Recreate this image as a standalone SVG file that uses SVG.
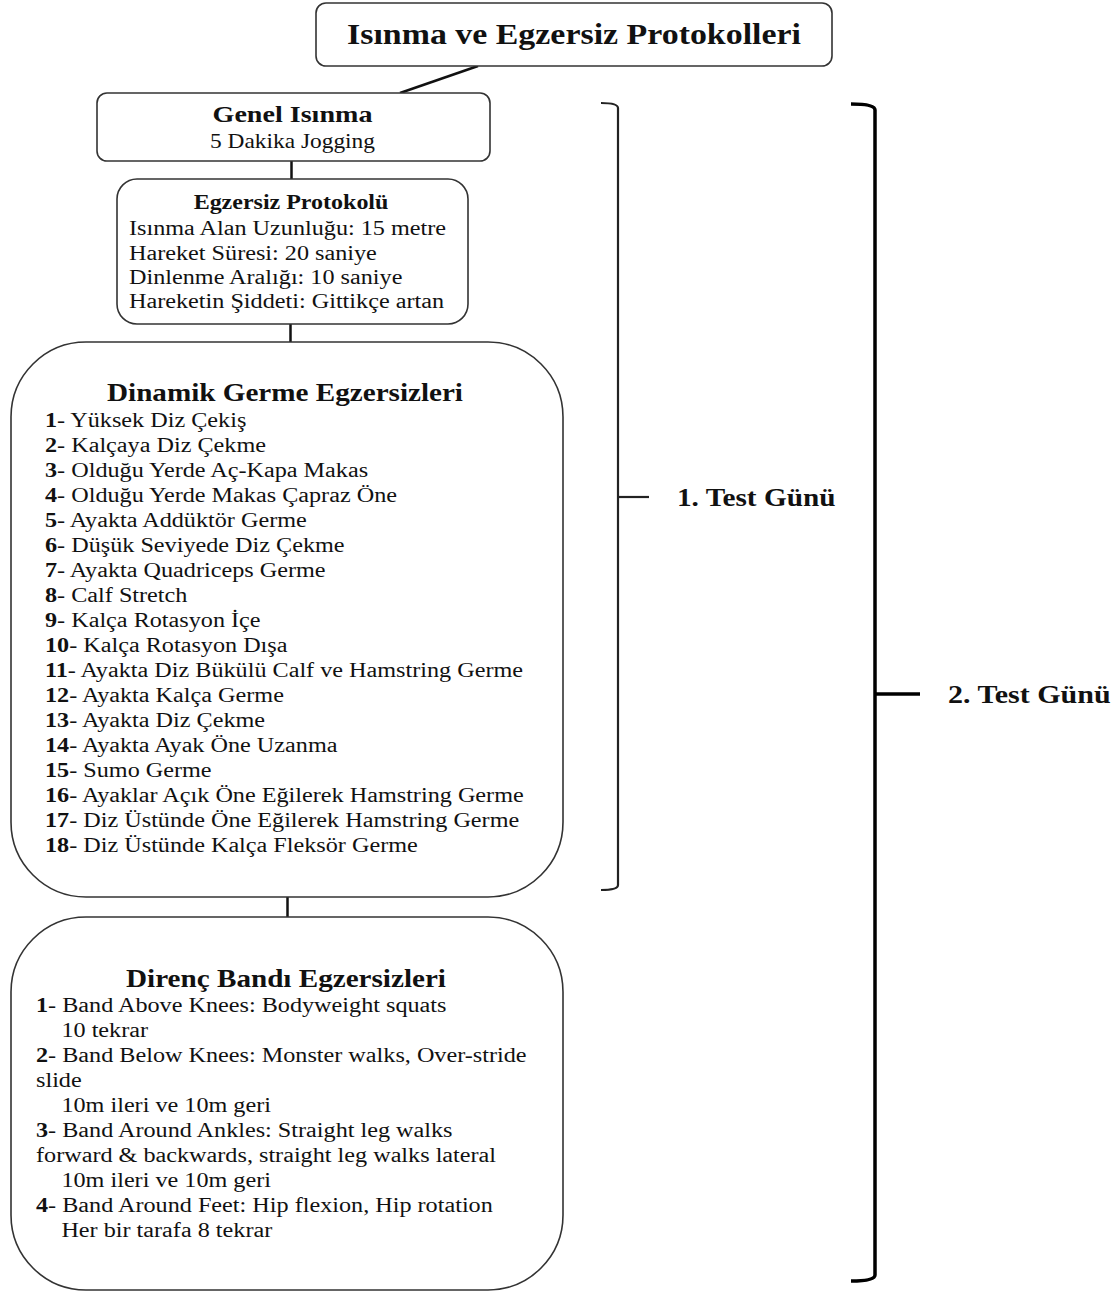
<svg xmlns="http://www.w3.org/2000/svg" width="1119" height="1293" viewBox="0 0 1119 1293">
<style>
text{font-family:"Liberation Serif","Times New Roman",serif;fill:#111;}
.box{fill:#fff;stroke:#333;stroke-width:1.6;}
.b{font-weight:bold;}
.t20{font-size:20px;}
.c{text-anchor:middle;}
.conn{stroke:#111;stroke-width:2.5;fill:none;}
.br1{stroke:#222;stroke-width:2.2;fill:none;}
.br2{stroke:#000;stroke-width:3.5;fill:none;}
</style>
<rect width="1119" height="1293" fill="#fff"/>
<g id="connectors">
<line class="conn" x1="478" y1="66" x2="400" y2="93"/>
<line class="conn" x1="291.5" y1="161" x2="291.5" y2="179"/>
<line class="conn" x1="290.5" y1="324" x2="290.5" y2="342"/>
<line class="conn" x1="287.5" y1="897" x2="287.5" y2="917"/>
</g>
<g id="title">
<rect class="box" x="316" y="3" width="516" height="63" rx="10"/>
<g transform="translate(574,0) scale(1.13,1)"><text class="b c" x="0" y="44" font-size="30">Isınma ve Egzersiz Protokolleri</text></g>
</g>
<g id="genel">
<rect class="box" x="97" y="93" width="393" height="68" rx="10"/>
<g transform="translate(292.5,0) scale(1.17,1)"><text class="b c" x="0" y="122" font-size="24">Genel Isınma</text>
<text class="c t20" x="0" y="148">5 Dakika Jogging</text></g>
</g>
<g id="protokol">
<rect class="box" x="117" y="179" width="351" height="145" rx="20"/>
<g transform="translate(291,0) scale(1.2,1)"><text class="b c t20" x="0" y="209">Egzersiz Protokolü</text></g>
<g transform="translate(129,0) scale(1.21,1)" class="t20">
<text x="0" y="235">Isınma Alan Uzunluğu: 15 metre</text>
<text x="0" y="260">Hareket Süresi: 20 saniye</text>
<text x="0" y="284">Dinlenme Aralığı: 10 saniye</text>
<text x="0" y="308">Hareketin Şiddeti: Gittikçe artan</text>
</g>
</g>
<g id="dinamik">
<rect class="box" x="11" y="342" width="552" height="555" rx="75"/>
<g transform="translate(285,0) scale(1.19,1)"><text class="b c" x="0" y="401" font-size="24.5">Dinamik Germe Egzersizleri</text></g>
<g transform="translate(45,0) scale(1.21,1)" class="t20">
<text x="0" y="427"><tspan class="b">1</tspan>- Yüksek Diz Çekiş</text>
<text x="0" y="452"><tspan class="b">2</tspan>- Kalçaya Diz Çekme</text>
<text x="0" y="477"><tspan class="b">3</tspan>- Olduğu Yerde Aç-Kapa Makas</text>
<text x="0" y="502"><tspan class="b">4</tspan>- Olduğu Yerde Makas Çapraz Öne</text>
<text x="0" y="527"><tspan class="b">5</tspan>- Ayakta Addüktör Germe</text>
<text x="0" y="552"><tspan class="b">6</tspan>- Düşük Seviyede Diz Çekme</text>
<text x="0" y="577"><tspan class="b">7</tspan>- Ayakta Quadriceps Germe</text>
<text x="0" y="602"><tspan class="b">8</tspan>- Calf Stretch</text>
<text x="0" y="627"><tspan class="b">9</tspan>- Kalça Rotasyon İçe</text>
<text x="0" y="652"><tspan class="b">10</tspan>- Kalça Rotasyon Dışa</text>
<text x="0" y="677"><tspan class="b">11</tspan>- Ayakta Diz Bükülü Calf ve Hamstring Germe</text>
<text x="0" y="702"><tspan class="b">12</tspan>- Ayakta Kalça Germe</text>
<text x="0" y="727"><tspan class="b">13</tspan>- Ayakta Diz Çekme</text>
<text x="0" y="752"><tspan class="b">14</tspan>- Ayakta Ayak Öne Uzanma</text>
<text x="0" y="777"><tspan class="b">15</tspan>- Sumo Germe</text>
<text x="0" y="802"><tspan class="b">16</tspan>- Ayaklar Açık Öne Eğilerek Hamstring Germe</text>
<text x="0" y="827"><tspan class="b">17</tspan>- Diz Üstünde Öne Eğilerek Hamstring Germe</text>
<text x="0" y="852"><tspan class="b">18</tspan>- Diz Üstünde Kalça Fleksör Germe</text>
</g>
</g>
<g id="direnc">
<rect class="box" x="11" y="917" width="552" height="373" rx="75"/>
<g transform="translate(286,0) scale(1.19,1)"><text class="b c" x="0" y="987" font-size="24.5">Direnç Bandı Egzersizleri</text></g>
<g transform="translate(36,0) scale(1.21,1)" class="t20">
<text x="0" y="1012"><tspan class="b">1</tspan>- Band Above Knees: Bodyweight squats</text>
<text x="21" y="1037">10 tekrar</text>
<text x="0" y="1062"><tspan class="b">2</tspan>- Band Below Knees: Monster walks, Over-stride</text>
<text x="0" y="1087">slide</text>
<text x="21" y="1112">10m ileri ve 10m geri</text>
<text x="0" y="1137"><tspan class="b">3</tspan>- Band Around Ankles: Straight leg walks</text>
<text x="0" y="1162">forward &amp; backwards, straight leg walks lateral</text>
<text x="21" y="1187">10m ileri ve 10m geri</text>
<text x="0" y="1212"><tspan class="b">4</tspan>- Band Around Feet: Hip flexion, Hip rotation</text>
<text x="21" y="1237">Her bir tarafa 8 tekrar</text>
</g>
</g>
<g id="gun1">
<path class="br1" d="M601,103 Q618,103 618,108 L618,885 Q618,890 601,890"/>
<line class="br1" x1="618" y1="497" x2="649" y2="497"/>
<g transform="translate(677,0) scale(1.17,1)"><text class="b" x="0" y="506" font-size="25">1. Test Günü</text></g>
</g>
<g id="gun2">
<path class="br2" d="M851,104 Q875,104 875,110 L875,1275 Q875,1281 851,1281"/>
<line class="br2" x1="875" y1="694" x2="920" y2="694"/>
<g transform="translate(948,0) scale(1.2,1)"><text class="b" x="0" y="703" font-size="25">2. Test Günü</text></g>
</g>
</svg>
